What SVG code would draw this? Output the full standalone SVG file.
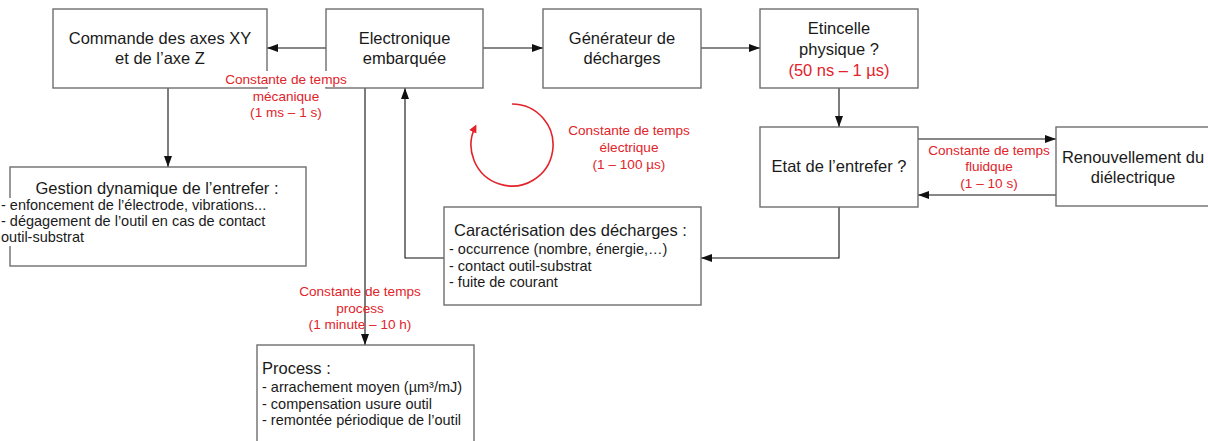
<svg xmlns="http://www.w3.org/2000/svg" width="1208" height="441" viewBox="0 0 1208 441">
<style>
  .box { fill: #ffffff; stroke: #6e6e6e; stroke-width: 1.4; }
  .t { font-family: "Liberation Sans", Arial, sans-serif; font-size: 16.5px; fill: #1a1a1a; }
  .c { text-anchor: middle; }
  .s { font-family: "Liberation Sans", Arial, sans-serif; font-size: 14.5px; fill: #1a1a1a; }
  .r { font-family: "Liberation Sans", Arial, sans-serif; font-size: 13.6px; fill: #e2232a; text-anchor: middle; }
  .ln { fill: none; stroke: #111111; stroke-width: 1.1; }
</style>
<defs>
  <marker id="ar" markerUnits="userSpaceOnUse" markerWidth="12" markerHeight="9" refX="11" refY="4" orient="auto">
    <path d="M0,0 L11,4 L0,8 z" fill="#111111"/>
  </marker>
  <marker id="arr" markerUnits="userSpaceOnUse" markerWidth="12" markerHeight="10" refX="6" refY="4" orient="auto">
    <path d="M0,0 L8,4 L0,8 z" fill="#e2232a"/>
  </marker>
</defs>
<rect width="1208" height="441" fill="#ffffff"/>

<g id="connectors">
  <path class="ln" d="M326,48 H267" marker-end="url(#ar)"/>
  <path class="ln" d="M483,48 H543" marker-end="url(#ar)"/>
  <path class="ln" d="M701,48 H760" marker-end="url(#ar)"/>
  <path class="ln" d="M839,88 V127" marker-end="url(#ar)"/>
  <path class="ln" d="M918,139 H1056" marker-end="url(#ar)"/>
  <path class="ln" d="M1056,195 H918" marker-end="url(#ar)"/>
  <path class="ln" d="M839,207 V258 H701" marker-end="url(#ar)"/>
  <path class="ln" d="M444,258 H405 V88" marker-end="url(#ar)"/>
  <path class="ln" d="M365,88 V345" marker-end="url(#ar)"/>
  <path class="ln" d="M168,88 V167" marker-end="url(#ar)"/>
</g>

<g id="node-commande">
  <rect class="box" x="53" y="9" width="214" height="79"/>
  <text class="t c" x="160" y="44">Commande des axes XY</text>
  <text class="t c" x="160" y="64">et de l’axe Z</text>
</g>
<g id="node-electronique">
  <rect class="box" x="326" y="9" width="157" height="79"/>
  <text class="t c" x="404.5" y="44">Electronique</text>
  <text class="t c" x="404.5" y="64">embarquée</text>
</g>
<g id="node-generateur">
  <rect class="box" x="543" y="9" width="158" height="79"/>
  <text class="t c" x="622" y="44">Générateur de</text>
  <text class="t c" x="622" y="64">décharges</text>
</g>
<g id="node-etincelle">
  <rect class="box" x="760" y="9" width="158" height="79"/>
  <text class="t c" x="839" y="34">Etincelle</text>
  <text class="t c" x="839" y="55">physique ?</text>
  <text class="t c" x="839" y="76" style="fill:#e2232a">(50 ns – 1 µs)</text>
</g>
<g id="node-etat">
  <rect class="box" x="760" y="127" width="158" height="80"/>
  <text class="t c" x="839" y="172">Etat de l’entrefer ?</text>
</g>
<g id="node-renouvellement">
  <rect class="box" x="1056" y="127" width="162" height="79"/>
  <text class="t c" x="1133" y="163">Renouvellement du</text>
  <text class="t c" x="1133" y="183">diélectrique</text>
</g>
<g id="node-gestion">
  <rect class="box" x="10" y="167" width="296" height="99"/>
  <rect x="0" y="198" width="282" height="48" fill="#ffffff"/>
  <text class="t c" x="157" y="194">Gestion dynamique de l’entrefer :</text>
  <text class="s" x="1" y="210">- enfoncement de l’électrode, vibrations...</text>
  <text class="s" x="1" y="226">- dégagement de l’outil en cas de contact</text>
  <text class="s" x="1" y="242">outil-substrat</text>
</g>
<g id="node-caracterisation">
  <rect class="box" x="444" y="207" width="257" height="98"/>
  <text class="t" x="454" y="236">Caractérisation des décharges :</text>
  <text class="s" x="449" y="254">- occurrence (nombre, énergie,…)</text>
  <text class="s" x="449" y="271">- contact outil-substrat</text>
  <text class="s" x="449" y="287">- fuite de courant</text>
</g>
<g id="node-process">
  <rect class="box" x="257" y="345" width="217" height="110"/>
  <text class="t" x="262" y="374">Process :</text>
  <text class="s" x="262" y="392">- arrachement moyen (µm³/mJ)</text>
  <text class="s" x="262" y="409">- compensation usure outil</text>
  <text class="s" x="262" y="425">- remontée périodique de l’outil</text>
</g>

<g id="label-mecanique">
  <rect x="222" y="71" width="128" height="16" fill="#ffffff"/>
  <text class="r" x="286" y="84">Constante de temps</text>
  <text class="r" x="286" y="101">mécanique</text>
  <text class="r" x="286" y="117">(1 ms – 1 s)</text>
</g>
<g id="label-electrique">
  <path d="M512,104 A41,41 0 1 1 475.5,126.4" fill="none" stroke="#e2232a" stroke-width="1.6" marker-end="url(#arr)"/>
  <text class="r" x="629" y="135">Constante de temps</text>
  <text class="r" x="629" y="152">électrique</text>
  <text class="r" x="629" y="169">(1 – 100 µs)</text>
</g>
<g id="label-fluidique">
  <text class="r" x="989" y="155">Constante de temps</text>
  <text class="r" x="989" y="171">fluidque</text>
  <text class="r" x="989" y="188">(1 – 10 s)</text>
</g>
<g id="label-process">
  <text class="r" x="360" y="296">Constante de temps</text>
  <text class="r" x="360" y="313">process</text>
  <text class="r" x="360" y="329">(1 minute – 10 h)</text>
</g>
</svg>
